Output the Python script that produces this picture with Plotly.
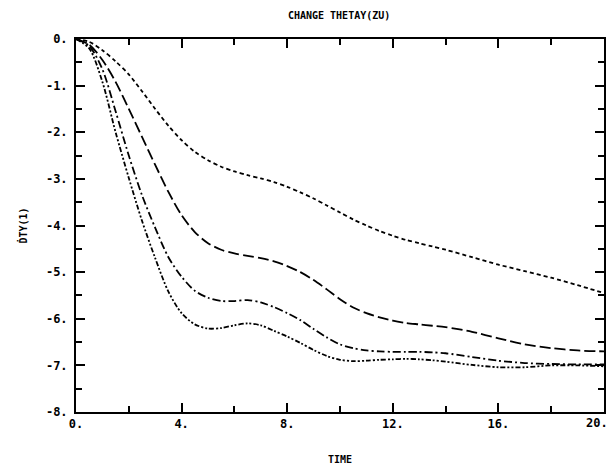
import plotly.graph_objects as go

# Time samples (shared by all curves)
time = [0, 0.5, 1, 1.5, 2, 2.5, 3, 3.5, 4, 4.5, 5, 5.5, 6, 6.5, 7, 7.5, 8, 8.5, 9, 9.5,
        10, 10.5, 11, 11.5, 12, 12.5, 13, 13.5, 14, 15, 16, 17, 18, 19, 20]

# Curve 1 (short dashes)
dty_a = [0, -0.06, -0.24, -0.48, -0.76, -1.12, -1.5, -1.86, -2.17, -2.42, -2.6, -2.74, -2.84, -2.92,
         -2.99, -3.07, -3.17, -3.29, -3.42, -3.57, -3.72, -3.87, -4.0, -4.12, -4.22, -4.31, -4.38,
         -4.45, -4.52, -4.68, -4.84, -4.98, -5.12, -5.28, -5.45]
# Curve 2 (long dashes)
dty_b = [0, -0.12, -0.45, -0.92, -1.5, -2.1, -2.7, -3.28, -3.78, -4.14, -4.38, -4.52, -4.6, -4.65,
         -4.7, -4.77, -4.87, -5.0, -5.17, -5.37, -5.58, -5.76, -5.88, -5.97, -6.04, -6.09, -6.12,
         -6.15, -6.18, -6.28, -6.42, -6.55, -6.63, -6.68, -6.7]
# Curve 3 (dash-dot)
dty_c = [0, -0.15, -0.65, -1.55, -2.5, -3.35, -4.05, -4.68, -5.1, -5.4, -5.55, -5.62, -5.62, -5.6,
         -5.65, -5.75, -5.88, -6.03, -6.22, -6.4, -6.55, -6.63, -6.68, -6.7, -6.71, -6.71, -6.71,
         -6.72, -6.74, -6.82, -6.9, -6.95, -6.97, -6.98, -6.98]
# Curve 4 (dash-dot-dot)
dty_d = [0, -0.2, -0.92, -2.0, -2.98, -3.9, -4.7, -5.42, -5.88, -6.12, -6.21, -6.2, -6.14, -6.1,
         -6.14, -6.26, -6.38, -6.52, -6.67, -6.8, -6.88, -6.91, -6.9, -6.88, -6.87, -6.86, -6.87,
         -6.89, -6.92, -6.99, -7.04, -7.04, -7.0, -7.0, -7.02]

x_ticks = [0, 4, 8, 12, 16, 20]
x_labels = ["0.", "4.", "8.", "12.", "16.", "20."]
y_ticks = [0, -1, -2, -3, -4, -5, -6, -7, -8]
y_labels = ["0.", "-1.", "-2.", "-3.", "-4.", "-5.", "-6.", "-7.", "-8."]

FONT = "DejaVu Sans Mono"
TICKFONT = dict(family=FONT, size=12, color="black", weight="bold")

fig = go.Figure()
styles = [
    (dty_a, "4px,3px"),
    (dty_b, "11px,4px"),
    (dty_c, "8px,3px,2px,3px"),
    (dty_d, "5px,2px,2px,2px,2px,2px"),
]
for ys, dash in styles:
    fig.add_trace(go.Scatter(x=time, y=ys, mode="lines",
                             line=dict(color="black", width=1.8, dash=dash, shape="spline", smoothing=0.8),
                             showlegend=False, hoverinfo="skip"))

axis_common = dict(showgrid=False, zeroline=False, showline=True, linecolor="black", linewidth=2,
                   mirror="ticks", ticks="inside", tickcolor="black", tickwidth=2,
                   ticklabeloverflow="allow", automargin=False, tickfont=TICKFONT)

# last x label sits at the right edge; drawn right-aligned so it stays inside the page
fig.update_xaxes(range=[0, 20], tickvals=x_ticks, ticktext=x_labels[:-1] + [""], ticklen=9,
                 minor=dict(ticks="inside", dtick=2, ticklen=6, tickwidth=1.5, tickcolor="black"),
                 title=dict(text="TIME", font=dict(family=FONT, size=10, color="black", weight="bold"),
                            standoff=26),
                 **axis_common)
fig.add_annotation(x=x_ticks[-1], xref="x", xanchor="right", xshift=6,
                   y=0, yref="paper", yanchor="top", yshift=-2,
                   text=x_labels[-1], showarrow=False, font=TICKFONT)
fig.update_yaxes(range=[-8, 0], tickvals=y_ticks, ticktext=y_labels, ticklen=9,
                 ticklabelstandoff=4,
                 minor=dict(ticks="inside", dtick=0.5, ticklen=6, tickwidth=1.5, tickcolor="black"),
                 title=dict(text="ḊTY(1)", font=dict(family=FONT, size=10, color="black", weight="bold"),
                            standoff=16),
                 **axis_common)

fig.update_layout(
    width=611, height=465,
    margin=dict(l=76, r=7, t=39, b=53),
    paper_bgcolor="white", plot_bgcolor="white",
    title=dict(text="CHANGE THETAY(ZU)", x=0.555, xanchor="center", y=0.967, yanchor="middle",
               font=dict(family=FONT, size=10, color="black", weight="bold")),
)

fig.write_html("out.html")
